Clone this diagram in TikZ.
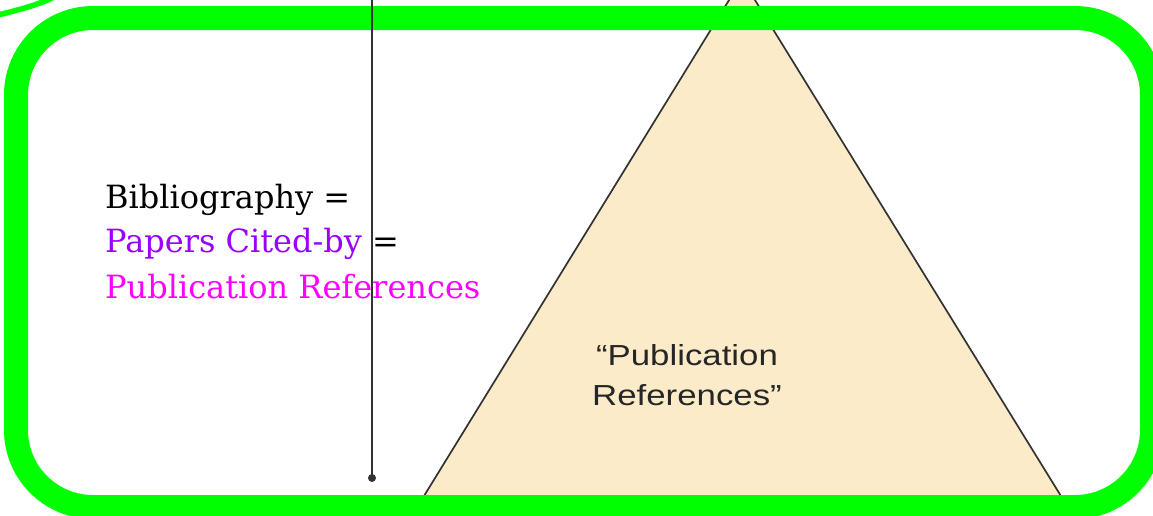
\documentclass[tikz,border=0pt]{standalone}
\usepackage{fontspec}
\setmainfont{DejaVu Serif}
\newfontfamily\arialf{Liberation Sans}
\definecolor{brgreen}{HTML}{00FF00}
\definecolor{trifill}{HTML}{FCEBC9}
\definecolor{purp}{HTML}{9900FF}
\definecolor{magen}{HTML}{FF00FF}
\definecolor{edge}{HTML}{333333}
\tikzset{
  tri/.style={draw=edge, line width=1.7pt, fill=trifill, line join=miter},
  frame/.style={draw=brgreen, line width=24pt, rounded corners=77pt},
  lefttext/.style={anchor=base west, inner sep=0pt, font=\fontsize{32}{38}\selectfont},
  tritext/.style={align=center, inner sep=0pt, text=black!85, font=\arialf\fontsize{29}{40}\selectfont},
  vline/.style={draw=edge, line width=1.6pt}
}
\begin{document}
\begin{tikzpicture}[x=1pt,y=-1pt]
\useasboundingbox (0,0) rectangle (1153,515);
\clip (0,0) rectangle (1153,515);
% triangle
\draw[tri] (742,-21) -- (400,535) -- (1085,535) -- cycle;
\node[tritext] (tlabel) at (687,375) {\scalebox{1.2}[1]{“Publication}\\\scalebox{1.2}[1]{References”}};
% green frame
\draw[frame] (16,18) rectangle (1152,507);
% green arc top-left
\draw[brgreen, line width=5.5pt] (-2,15) .. controls (18,10) and (38,5) .. (54,-3);
% vertical line
\coordinate (vtop) at (372,-5);
\coordinate (vbot) at (372,478);
\draw[vline] (vtop) -- (vbot);
\fill[edge] (vbot) circle (4);
% left text
\node[lefttext] (l1) at (105,208) {Bibliography =};
\node[lefttext] (l2) at (105,252) {\textcolor{purp}{Papers Cited-by} =};
\node[lefttext, text=magen] (l3) at (105,298) {Publication References};
\end{tikzpicture}
\end{document}
